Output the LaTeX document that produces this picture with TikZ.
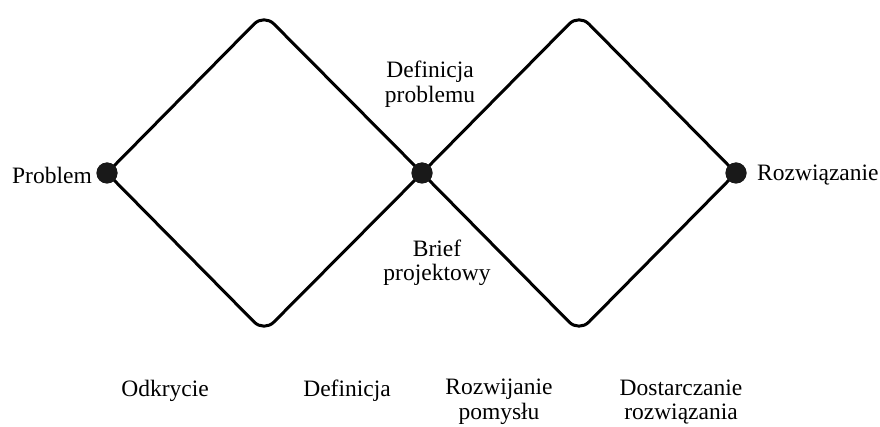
\documentclass[tikz,border=0pt]{standalone}
\usepackage{fontspec}
\setmainfont{Liberation Serif}
\begin{document}
\begin{tikzpicture}[x=1pt,y=-1pt,
  edge/.style={line width=3pt,line cap=round,rounded corners=14pt},
  dot/.style={circle,fill=black!90,inner sep=0pt,minimum size=21pt},
  lbl/.style={font=\fontsize{23.5}{24.5}\selectfont,align=center,inner sep=0pt}]
\useasboundingbox (0,0) rectangle (880,427);
\coordinate (T1) at (264,14);
\coordinate (B1) at (264,332);
\coordinate (T2) at (579,14);
\coordinate (B2) at (579,332);
\node[dot] (P) at (107,173) {};
\node[dot] (M) at (422,173) {};
\node[dot] (R) at (736,173) {};
\draw[edge] (P.center) -- (T1) -- (M.center);
\draw[edge] (P.center) -- (B1) -- (M.center);
\draw[edge] (M.center) -- (T2) -- (R.center);
\draw[edge] (M.center) -- (B2) -- (R.center);
\node[dot] at (P) {};
\node[dot] at (M) {};
\node[dot] at (R) {};
\node[lbl,anchor=east] (lp) at (92,175) {Problem};
\node[lbl,anchor=west] (lr) at (757,175) {Rozwiązanie};
\node[lbl] (ldp) at (430,84) {Definicja\\problemu};
\node[lbl] (lbp) at (437,263) {Brief\\projektowy};
\node[lbl] (l1) at (165,391) {Odkrycie};
\node[lbl] (l2) at (347,391) {Definicja};
\node[lbl] (l3) at (499,402) {Rozwijanie\\pomysłu};
\node[lbl] (l4) at (681,402) {Dostarczanie\\rozwiązania};
\end{tikzpicture}
\end{document}
